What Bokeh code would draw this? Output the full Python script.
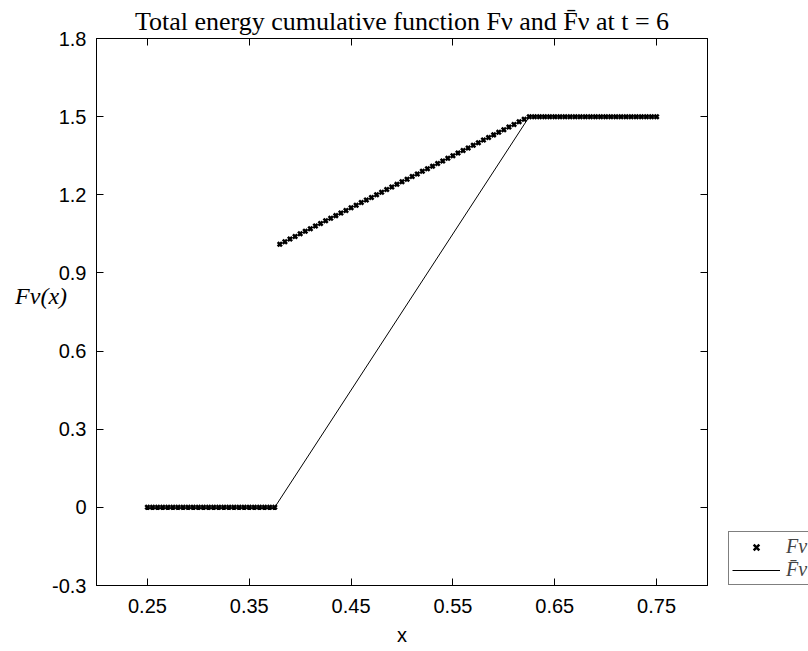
from bokeh.plotting import figure
from bokeh.layouts import row
from bokeh.models import FixedTicker, Legend, LegendItem, LinearAxis, Range1d
from bokeh.embed import file_html
from bokeh.resources import INLINE

title_text = "Total energy cumulative function F\u03bd and F\u0304\u03bd at t = 6"
x_label = "x"
y_label = "F\u03bd(x)"
legend_labels = ["F\u03bd", "F\u0304\u03bd"]

x_ticks = [0.25, 0.35, 0.45, 0.55, 0.65, 0.75]
x_tick_labels = ["0.25", "0.35", "0.45", "0.55", "0.65", "0.75"]
y_ticks = [-0.3, 0.0, 0.3, 0.6, 0.9, 1.2, 1.5, 1.8]
y_tick_labels = ["-0.3", "0", "0.3", "0.6", "0.9", "1.2", "1.5", "1.8"]

# F_nu (points)
f_x = [
    0.250, 0.255, 0.260, 0.265, 0.270, 0.275, 0.280, 0.285, 0.290, 0.295,
    0.300, 0.305, 0.310, 0.315, 0.320, 0.325, 0.330, 0.335, 0.340, 0.345,
    0.350, 0.355, 0.360, 0.365, 0.370, 0.375,
    0.380, 0.385, 0.390, 0.395, 0.400, 0.405, 0.410, 0.415, 0.420, 0.425,
    0.430, 0.435, 0.440, 0.445, 0.450, 0.455, 0.460, 0.465, 0.470, 0.475,
    0.480, 0.485, 0.490, 0.495, 0.500, 0.505, 0.510, 0.515, 0.520, 0.525,
    0.530, 0.535, 0.540, 0.545, 0.550, 0.555, 0.560, 0.565, 0.570, 0.575,
    0.580, 0.585, 0.590, 0.595, 0.600, 0.605, 0.610, 0.615, 0.620,
    0.625, 0.630, 0.635, 0.640, 0.645, 0.650, 0.655, 0.660, 0.665, 0.670,
    0.675, 0.680, 0.685, 0.690, 0.695, 0.700, 0.705, 0.710, 0.715, 0.720,
    0.725, 0.730, 0.735, 0.740, 0.745, 0.750,
]
f_y = [
    0, 0, 0, 0, 0, 0, 0, 0, 0, 0,
    0, 0, 0, 0, 0, 0, 0, 0, 0, 0,
    0, 0, 0, 0, 0, 0,
    1.01, 1.02, 1.03, 1.04, 1.05, 1.06, 1.07, 1.08, 1.09, 1.10,
    1.11, 1.12, 1.13, 1.14, 1.15, 1.16, 1.17, 1.18, 1.19, 1.20,
    1.21, 1.22, 1.23, 1.24, 1.25, 1.26, 1.27, 1.28, 1.29, 1.30,
    1.31, 1.32, 1.33, 1.34, 1.35, 1.36, 1.37, 1.38, 1.39, 1.40,
    1.41, 1.42, 1.43, 1.44, 1.45, 1.46, 1.47, 1.48, 1.49,
    1.5, 1.5, 1.5, 1.5, 1.5, 1.5, 1.5, 1.5, 1.5, 1.5,
    1.5, 1.5, 1.5, 1.5, 1.5, 1.5, 1.5, 1.5, 1.5, 1.5,
    1.5, 1.5, 1.5, 1.5, 1.5, 1.5,
]

# F-bar_nu (line)
fbar_x = [0.25, 0.375, 0.625, 0.75]
fbar_y = [0.0, 0.0, 1.5, 1.5]

SANS = "Liberation Sans"
SERIF = "Liberation Serif"

p = figure(width=720, height=651,
           x_range=Range1d(0.2, 0.8), y_range=Range1d(-0.3, 1.8),
           output_backend="svg", toolbar_location=None,
           min_border_left=96, min_border_right=13,
           min_border_top=38, min_border_bottom=66)

p.title.text = title_text
p.title.text_font = SERIF
p.title.text_font_size = "26px"
p.title.text_font_style = "normal"
p.title.text_color = "black"
p.title.align = "center"
p.title.standoff = 6
p.title.offset = 0

p.grid.visible = False
p.outline_line_color = "black"
p.outline_line_width = 1
p.background_fill_color = "white"
p.border_fill_color = "white"

def style_axis(ax, ticks, labels, show_labels):
    ax.ticker = FixedTicker(ticks=ticks)
    ax.major_tick_in = 7
    ax.major_tick_out = 0
    ax.minor_tick_line_color = None
    ax.axis_line_color = "black"
    ax.major_tick_line_color = "black"
    if show_labels:
        ax.major_label_overrides = {t: l for t, l in zip(ticks, labels)}
        ax.major_label_text_font = SANS
        ax.major_label_text_font_size = "20px"
        ax.major_label_text_color = "black"
    else:
        ax.major_label_text_font_size = "1px"
        ax.major_label_text_color = None
        ax.major_label_standoff = 0

xax = p.xaxis[0]
yax = p.yaxis[0]
style_axis(xax, x_ticks, x_tick_labels, True)
style_axis(yax, y_ticks, y_tick_labels, True)
xax.major_label_standoff = 13
yax.major_label_standoff = 10
xax.axis_label = x_label
xax.axis_label_text_font = SANS
xax.axis_label_text_font_size = "20px"
xax.axis_label_text_font_style = "normal"
xax.axis_label_text_color = "black"
xax.axis_label_standoff = 8

yax.axis_label_text_font = SERIF
yax.axis_label_text_font_size = "24px"
yax.axis_label_text_font_style = "italic"
yax.axis_label_text_color = "black"
if "axis_label_orientation" in yax.properties():
    yax.axis_label = y_label + "\n"
    yax.axis_label_orientation = "horizontal"
    yax.axis_label_standoff = -18
else:
    yax.axis_label = y_label
    yax.axis_label_standoff = 6

top_ax = LinearAxis()
right_ax = LinearAxis()
style_axis(top_ax, x_ticks, x_tick_labels, False)
style_axis(right_ax, y_ticks, y_tick_labels, False)
p.add_layout(top_ax, "above")
p.add_layout(right_ax, "right")

pts = p.scatter(f_x, f_y, marker="x", size=6, line_width=2.5, color="black")
ln = p.line(fbar_x, fbar_y, line_color="black", line_width=1)

# Legend lives in a narrow companion figure to the right of the plot box
lp = figure(width=88, height=651,
            x_range=p.x_range, y_range=p.y_range,
            x_axis_type=None, y_axis_type=None,
            output_backend="svg", toolbar_location=None,
            min_border_left=0, min_border_right=0,
            min_border_top=38, min_border_bottom=66)
lp.grid.visible = False
lp.outline_line_color = None
lp.background_fill_color = "white"
lp.border_fill_color = "white"
lpts = lp.scatter(f_x, f_y, marker="x", size=6, line_width=2.5, color="black",
                  visible=False)
lln = lp.line(fbar_x, fbar_y, line_color="black", line_width=1, visible=False)

legend = Legend(items=[LegendItem(label=legend_labels[0], renderers=[lpts]),
                       LegendItem(label=legend_labels[1], renderers=[lln])],
                location=(8, 0), margin=0, padding=3, spacing=0,
                glyph_width=48, glyph_height=20, label_height=20,
                label_standoff=6,
                label_text_font=SERIF, label_text_font_style="italic",
                label_text_font_size="20px",
                border_line_color="black", border_line_width=1,
                background_fill_color="white", background_fill_alpha=1)
lp.add_layout(legend, "center")

layout = row(p, lp, spacing=0)
open("out.html", "w").write(file_html(layout, INLINE))
